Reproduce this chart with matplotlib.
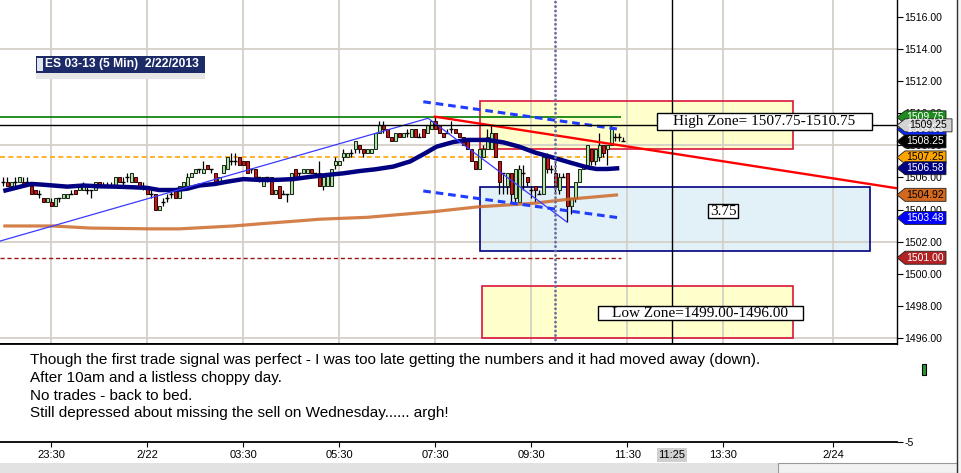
import matplotlib
matplotlib.use('Agg')
import matplotlib.pyplot as plt
from matplotlib.patches import Rectangle, Polygon
import matplotlib.transforms as mtransforms
import numpy as np

plt.rcParams['font.family'] = ['Liberation Sans', 'DejaVu Sans']

# ---------------- data ----------------
# 5-minute bars, index 0 = 23:30 bar
bar_start = -12
opens = [1505.75, 1505.75, 1505.5, 1505.75, 1505.75, 1505.75, 1505.75, 1505.5, 1505.25, 1505.0,
         1504.75, 1504.5, 1504.5, 1504.25, 1504.75, 1504.75, 1504.75, 1505.0, 1505.25, 1505.25,
         1505.25, 1505.25, 1505.25, 1505.25, 1505.75, 1505.5, 1505.5, 1505.5, 1505.5, 1506.0,
         1505.75, 1506.0, 1505.75, 1506.0, 1505.75, 1505.5, 1505.5, 1505.0, 1505.0, 1504.0,
         1504.5, 1504.75, 1505.0, 1505.25, 1504.75, 1505.5, 1505.5, 1506.0, 1506.25, 1506.5,
         1506.25, 1506.75, 1506.5, 1506.25, 1505.75, 1506.25, 1506.5, 1507.0, 1507.0, 1507.25,
         1507.0, 1507.0, 1506.5, 1506.5, 1506.0, 1505.5, 1506.0, 1506.0, 1505.0, 1505.5,
         1505.0, 1505.0, 1505.0, 1506.5, 1506.25, 1506.25, 1506.25, 1506.5, 1506.25, 1506.25,
         1505.5, 1505.5, 1505.5, 1506.75, 1506.75, 1507.25, 1507.25, 1507.5, 1507.75, 1508.0,
         1507.75, 1507.5, 1507.5, 1507.75, 1508.75, 1509.25, 1509.0, 1508.5, 1508.25, 1508.75,
         1508.5, 1508.75, 1508.5, 1509.0, 1508.5, 1509.0, 1508.75, 1509.0, 1509.5, 1509.25,
         1508.75, 1508.75, 1509.0, 1509.0, 1508.75, 1508.5, 1508.25, 1507.75, 1507.0, 1506.5,
         1507.25, 1507.75, 1507.75, 1508.75, 1507.0, 1506.25, 1505.5, 1506.25, 1504.75, 1504.5,
         1506.25, 1506.0, 1505.25, 1505.5, 1505.0, 1505.0, 1507.25, 1506.5, 1506.25, 1505.25,
         1506.0, 1506.25, 1504.25, 1504.75, 1505.75, 1506.5, 1506.75, 1507.75, 1507.0, 1507.25,
         1508.0, 1507.75, 1508.0, 1508.5, 1508.5, 1508.25]
highs = [1506.0, 1506.0, 1505.75, 1506.0, 1506.0, 1506.0, 1506.0, 1505.75, 1505.25, 1505.25,
         1504.75, 1504.75, 1504.75, 1504.75, 1504.75, 1505.0, 1505.0, 1505.25, 1505.25, 1505.5,
         1505.75, 1505.5, 1505.25, 1505.75, 1505.75, 1505.75, 1505.75, 1505.75, 1506.0, 1506.0,
         1506.0, 1506.25, 1506.25, 1506.0, 1505.75, 1505.75, 1505.5, 1505.25, 1505.0, 1504.25,
         1504.75, 1505.0, 1505.25, 1505.25, 1505.5, 1505.75, 1506.25, 1506.25, 1506.5, 1506.5,
         1507.0, 1506.75, 1506.5, 1506.25, 1506.0, 1506.75, 1507.25, 1507.5, 1507.5, 1507.25,
         1507.0, 1507.0, 1506.5, 1506.5, 1506.0, 1506.0, 1506.0, 1506.0, 1505.25, 1505.5,
         1505.25, 1505.0, 1506.25, 1506.5, 1506.25, 1506.5, 1506.5, 1506.5, 1506.25, 1507.0,
         1506.0, 1506.25, 1506.5, 1507.25, 1507.0, 1507.75, 1507.5, 1507.75, 1508.25, 1508.0,
         1507.75, 1507.75, 1507.75, 1508.75, 1509.5, 1509.5, 1509.0, 1508.5, 1508.75, 1508.75,
         1508.75, 1509.0, 1509.0, 1509.0, 1508.75, 1509.0, 1509.25, 1509.5, 1509.75, 1509.25,
         1508.75, 1509.0, 1509.5, 1509.0, 1508.75, 1508.5, 1508.25, 1507.75, 1507.0, 1507.75,
         1508.0, 1509.0, 1509.25, 1508.75, 1507.0, 1506.25, 1506.25, 1506.25, 1506.5, 1506.75,
         1506.75, 1506.0, 1505.5, 1505.5, 1505.25, 1507.5, 1507.5, 1506.75, 1507.0, 1506.25,
         1506.25, 1506.25, 1504.75, 1505.75, 1506.5, 1506.75, 1508.0, 1507.75, 1507.75, 1508.75,
         1508.0, 1508.0, 1509.25, 1508.75, 1508.75, 1508.5]
lows = [1505.5, 1505.5, 1505.5, 1505.5, 1505.75, 1505.5, 1505.5, 1505.0, 1505.0, 1504.75,
        1504.5, 1504.5, 1504.25, 1504.25, 1504.5, 1504.75, 1504.75, 1505.0, 1505.0, 1505.25,
        1505.25, 1505.0, 1504.75, 1505.25, 1505.5, 1505.5, 1505.5, 1505.5, 1505.5, 1505.75,
        1505.5, 1505.75, 1505.75, 1505.75, 1505.5, 1505.25, 1505.0, 1504.75, 1504.0, 1504.0,
        1504.25, 1504.5, 1504.75, 1504.75, 1504.75, 1505.5, 1505.5, 1506.0, 1506.25, 1506.25,
        1506.25, 1506.5, 1506.25, 1505.75, 1505.75, 1506.25, 1506.5, 1506.75, 1506.75, 1506.75,
        1506.75, 1506.25, 1506.25, 1506.0, 1505.75, 1505.5, 1505.75, 1505.0, 1505.0, 1504.75,
        1505.0, 1504.5, 1505.0, 1506.0, 1506.0, 1506.25, 1506.25, 1506.25, 1506.0, 1505.5,
        1505.25, 1505.5, 1505.5, 1506.5, 1506.75, 1507.0, 1507.25, 1507.25, 1507.5, 1507.5,
        1507.25, 1507.5, 1507.5, 1507.75, 1508.75, 1508.75, 1508.5, 1508.25, 1508.25, 1508.5,
        1508.5, 1508.5, 1508.5, 1508.5, 1508.5, 1508.75, 1508.75, 1509.0, 1509.0, 1508.75,
        1508.5, 1508.75, 1508.75, 1508.75, 1508.5, 1508.0, 1507.75, 1507.0, 1506.5, 1506.5,
        1507.25, 1507.75, 1507.75, 1507.25, 1505.0, 1505.0, 1505.0, 1504.5, 1504.5, 1504.5,
        1505.25, 1505.5, 1504.75, 1504.5, 1505.0, 1505.0, 1506.25, 1506.25, 1505.0, 1505.0,
        1506.0, 1503.25, 1503.75, 1504.5, 1505.75, 1506.5, 1506.75, 1506.75, 1506.75, 1507.0,
        1507.25, 1506.75, 1508.0, 1508.25, 1508.25, 1508.25]
closes = [1505.75, 1505.5, 1505.75, 1505.75, 1506.0, 1505.5, 1505.75, 1505.0, 1505.0, 1505.0,
          1504.5, 1504.75, 1504.25, 1504.75, 1504.75, 1505.0, 1505.0, 1505.0, 1505.0, 1505.5,
          1505.5, 1505.25, 1505.25, 1505.75, 1505.5, 1505.5, 1505.5, 1505.5, 1506.0, 1505.75,
          1505.75, 1506.0, 1506.25, 1505.75, 1505.5, 1505.5, 1505.0, 1505.0, 1504.0, 1504.25,
          1504.5, 1504.75, 1505.0, 1504.75, 1505.5, 1505.75, 1506.0, 1506.25, 1506.5, 1506.5,
          1506.5, 1506.5, 1506.5, 1505.75, 1506.0, 1506.75, 1507.25, 1507.0, 1507.0, 1506.75,
          1506.75, 1506.25, 1506.5, 1506.0, 1506.0, 1506.0, 1506.0, 1505.0, 1505.25, 1504.75,
          1505.0, 1505.0, 1506.25, 1506.0, 1506.25, 1506.5, 1506.5, 1506.25, 1506.25, 1505.5,
          1506.0, 1506.25, 1506.5, 1507.0, 1507.0, 1507.5, 1507.5, 1507.5, 1508.25, 1507.75,
          1507.5, 1507.75, 1507.75, 1508.75, 1509.25, 1509.0, 1508.5, 1508.25, 1508.75, 1508.5,
          1508.75, 1508.75, 1509.0, 1508.5, 1508.5, 1508.5, 1509.25, 1509.5, 1509.0, 1508.75,
          1508.5, 1508.75, 1509.0, 1508.75, 1508.5, 1508.0, 1507.75, 1507.0, 1506.5, 1507.75,
          1507.75, 1508.5, 1508.75, 1507.25, 1505.75, 1506.25, 1506.25, 1505.0, 1506.5, 1506.5,
          1506.25, 1505.75, 1505.25, 1505.25, 1505.0, 1507.25, 1506.5, 1506.5, 1505.5, 1506.0,
          1506.0, 1504.25, 1504.75, 1505.75, 1506.5, 1506.75, 1508.0, 1507.0, 1507.75, 1508.0,
          1507.5, 1508.0, 1509.0, 1508.5, 1508.5, 1508.25]

# moving averages (bar index, price)
ma_fast_t = [-12, -5, -2, 4, 8, 12, 16, 20.5, 24, 27, 31, 34, 37, 41, 44, 48, 52, 56, 60.5, 65,
             69, 73, 77, 81, 85.5, 89.7, 93.4, 96.3, 100.5, 104, 109, 113, 117, 121, 125.5,
             129.7, 134, 136.3, 139, 142]
ma_fast_v = [1505.16, 1505.6, 1505.55, 1505.43, 1505.5, 1505.45, 1505.43, 1505.39, 1505.35,
             1505.22, 1505.22, 1505.3, 1505.5, 1505.6, 1505.74, 1505.9, 1505.85, 1505.85, 1505.9,
             1506.05, 1506.16, 1506.26, 1506.4, 1506.51, 1506.68, 1507.0, 1507.5, 1507.92,
             1508.21, 1508.34, 1508.34, 1508.19, 1507.92, 1507.55, 1507.24, 1506.93, 1506.63,
             1506.53, 1506.53, 1506.58]
ma_slow_t = [-12, 0.4, 9.7, 25, 32, 45.5, 54, 62, 67, 79, 95.5, 107, 120.5, 129, 141.7]
ma_slow_v = [1502.98, 1502.98, 1502.85, 1502.8, 1502.8, 1502.98, 1503.15, 1503.3, 1503.4,
             1503.52, 1503.87, 1504.18, 1504.39, 1504.64, 1504.92]

# drawn objects
trend_t = [-12.8, 94.2, 128.9]
trend_v = [1502.04, 1509.69, 1503.23]
chan_t = [93, 142.2]
chan_upper = [1510.72, 1509.0]
chan_lower = [1505.16, 1503.48]
red_t = [95.9, 211.4]
red_v = [1509.79, 1505.33]
level_green = 1509.75
level_orange = 1507.25
level_darkred = 1501.00
level_end = 142.5
cross_t = 155.2
cross_v = 1509.3
dotted_t = 125.9
high_zone = (107.2, 185.5, 1507.75, 1510.75)
low_zone = (107.8, 185.5, 1496.0, 1499.25)
range_box = (107.3, 204.7, 1501.42, 1505.39)

tick_pos = [0, 24, 48, 72, 96, 120, 144, 168, 195.5]
tick_lab = ['23:30', '2/22', '03:30', '05:30', '07:30', '09:30', '11:30', '13:30', '2/24']
price_ticks = list(range(1496, 1517, 2))

notes = ["Though the first trade signal was perfect - I was too late getting the numbers and it had moved away (down).",
         "After 10am and a listless choppy day.",
         "No trades - back to bed.",
         "Still depressed about missing the sell on Wednesday...... argh!"]

tags = [(1509.75, '#1e8c1e', 'white', 49),
        (1509.00, '#0a28ff', 'white', 49),
        (1509.25, '#d4d4d4', 'black', 55),
        (1508.25, '#000000', 'white', 49),
        (1507.25, '#ffa500', 'black', 49),
        (1506.58, '#000080', 'white', 49),
        (1504.92, '#d2691e', 'black', 49),
        (1503.48, '#0000ff', 'white', 49),
        (1501.00, '#b22222', 'white', 49)]

# ---------------- figure ----------------
W, H = 961, 473
fig = plt.figure(figsize=(W / 100, H / 100), dpi=100)
fig.patch.set_facecolor('white')


def px_box(x0, y0, x1, y1):
    return [x0 / W, 1 - y1 / H, (x1 - x0) / W, (y1 - y0) / H]


def fig_rect(x0, y0, x1, y1, **kw):
    r = Rectangle((x0 / W, 1 - y1 / H), (x1 - x0) / W, (y1 - y0) / H,
                  transform=fig.transFigure, **kw)
    fig.add_artist(r)
    return r


ax = fig.add_axes(px_box(0, 0, 897, 344))
ax2 = fig.add_axes(px_box(0, 344, 897, 442))

XL = (-12.825, 211.43)
YL = (1495.626, 1517.059)
ax.set_xlim(*XL)
ax.set_ylim(*YL)
ax2.set_xlim(*XL)
ax2.set_ylim(-5, 20)

grid_c = '#d4d0c8'
for tp in tick_pos:
    ax.axvline(tp, color=grid_c, lw=1.3, zorder=1)
for gp in [1496, 1502, 1508, 1514]:
    ax.axhline(gp, color=grid_c, lw=1.3, zorder=1)

# zones
def zone(z, fc, ec):
    t0, t1, p0, p1 = z
    ax.add_patch(Rectangle((t0, p0), t1 - t0, p1 - p0, fc=fc, ec='none', zorder=0.5))
    ax.add_patch(Rectangle((t0, p0), t1 - t0, p1 - p0, fc='none', ec=ec, lw=1.2, zorder=2))

zone(high_zone, '#ffffcc', '#dc143c')
zone(low_zone, '#ffffcc', '#dc143c')
zone(range_box, '#e2f0f8', '#000080')

# horizontal levels
ax.hlines(level_green, XL[0], level_end, color='#007a00', lw=1.2, zorder=2.5)
ax.hlines(level_orange, XL[0], level_end, color='#ffa500', lw=1.2, linestyles=(0, (3, 2)), zorder=2.5)
ax.hlines(level_darkred, XL[0], level_end, color='#9a1515', lw=1.0, linestyles=(0, (3, 2)), zorder=2.5)

# candles
o = np.array(opens); h = np.array(highs); l = np.array(lows); c = np.array(closes)
t = np.arange(bar_start, bar_start + len(o))
ax.vlines(t, l, h, color='black', lw=0.9, zorder=3)
up = c > o
dn = c < o
fl = c == o
ax.bar(t[up], (c - o)[up], bottom=o[up], width=0.8, color='#b2e6a2', edgecolor='#1c2c1c', lw=0.75, zorder=3.2)
ax.bar(t[dn], (o - c)[dn], bottom=c[dn], width=0.8, color='#dd1010', edgecolor='#2a0a0a', lw=0.75, zorder=3.2)
ax.hlines(o[fl], t[fl] - 0.5, t[fl] + 0.5, color='black', lw=1.0, zorder=3.2)

# moving averages
ax.plot(ma_slow_t, ma_slow_v, color='#cd6a2a', lw=2.3, alpha=0.85, zorder=4, solid_capstyle='butt')
ax.plot(ma_fast_t, ma_fast_v, color='#000080', lw=3.2, zorder=4.2, solid_capstyle='butt')

# trend / channel lines
ax.plot(trend_t, trend_v, color='#3a3aff', lw=0.9, zorder=4.5)
ax.plot(chan_t, chan_upper, color='#1f3cff', lw=2.2, ls=(0, (2.5, 1.6)), zorder=5)
ax.plot(chan_t, chan_lower, color='#1f3cff', lw=2.2, ls=(0, (2.5, 1.6)), zorder=5)
ax.plot(red_t, red_v, color='#ff0000', lw=1.7, zorder=5)

# dotted time marker and crosshair
ax.axvline(dotted_t, color='#6c6c9c', lw=2.0, ls=(0, (0.1, 1.5)), dash_capstyle='round', zorder=5)
ax.axvline(cross_t, color='black', lw=1.0, zorder=6)
ax.axhline(cross_v, color='black', lw=1.0, zorder=6)

# annotation boxes
def note_box(t0, t1, p0, p1, txt, fs):
    ax.add_patch(Rectangle((t0, p0), t1 - t0, p1 - p0, fc='white', ec='black', lw=1.0, zorder=7))
    ax.text((t0 + t1) / 2, (p0 + p1) / 2, txt, ha='center', va='center', fontsize=fs,
            family=['Liberation Serif', 'DejaVu Serif'], zorder=8)

note_box(151.35, 205.1, 1508.96, 1510.02, 'High Zone= 1507.75-1510.75', 11)
note_box(164.25, 171.75, 1503.46, 1504.33, '3.75', 11)
note_box(136.6, 188.0, 1497.12, 1497.99, 'Low Zone=1499.00-1496.00', 11)

# axes styling (price panel)
for s in ['left', 'top']:
    ax.spines[s].set_visible(False)
ax.spines['right'].set_color('black')
ax.spines['right'].set_linewidth(1.0)
ax.spines['bottom'].set_linewidth(1.3)
ax.set_xticks([])
ax.yaxis.tick_right()
ax.set_yticks(price_ticks)
ax.set_yticklabels([f'{v:.2f}' for v in price_ticks])
ax.tick_params(axis='y', direction='out', length=4.5, width=0.8, pad=1.0, labelsize=7.6, colors='black')

# price tags
trans = mtransforms.blended_transform_factory(ax.transAxes, ax.transData)
dxp = 1 / 897.0
dyp = 1 / 16.05
for val, fc, tc, wpx in tags:
    hh = 6.5 * dyp
    pts = [(1.0, val), (1 + 8 * dxp, val + hh), (1 + wpx * dxp, val + hh),
           (1 + wpx * dxp, val - hh), (1 + 8 * dxp, val - hh)]
    ax.add_patch(Polygon(pts, closed=True, transform=trans, clip_on=False, fc=fc, ec='#202020',
                         lw=0.6, zorder=10))
    ax.text(1 + (8 + wpx) / 2 * dxp, val, f'{val:.2f}', transform=trans, ha='center', va='center',
            fontsize=7.5, color=tc, zorder=11, clip_on=False)

# text panel
for s in ['left', 'right']:
    ax2.spines[s].set_visible(False)
ax2.spines['top'].set_linewidth(1.3)
ax2.spines['bottom'].set_linewidth(1.3)
ax2.set_xticks(tick_pos)
ax2.set_xticklabels(tick_lab)
ax2.tick_params(axis='x', direction='out', length=3.5, width=0.8, pad=2.4, labelsize=8.0)
ax2.yaxis.tick_right()
ax2.set_yticks([-5])
ax2.set_yticklabels(['-5'])
ax2.tick_params(axis='y', direction='out', length=4.5, width=0.8, pad=1.0, labelsize=7.6)
line_y = [0.837, 0.656, 0.472, 0.293]
for txt, yy in zip(notes, line_y):
    ax2.text(30 / 897, yy, txt, transform=ax2.transAxes, fontsize=11, va='center', ha='left')

t2 = mtransforms.blended_transform_factory(ax2.transData, ax2.transAxes)
ax2.text(cross_t, -13 / 98, '11:25', transform=t2, ha='center', va='center', fontsize=8.0,
         bbox=dict(boxstyle='square,pad=0.15', fc='#d0d0d0', ec='none'), clip_on=False, zorder=10)

# title box
fig_rect(36, 56, 205, 73, fc='#1c2b68', ec='none', zorder=20)
fig_rect(36, 73, 205, 79, fc='#e6e6e6', ec='none', zorder=20)
fig_rect(37, 58, 43, 71, fc='#dfe6ee', ec='none', zorder=21)
fig.text(45 / W, 1 - 64.5 / H, 'ES 03-13 (5 Min)  2/22/2013', color='white', fontsize=8.7,
         fontweight='bold', va='center', ha='left', zorder=22)

# small marker in text panel
fig_rect(922, 364, 926, 375, fc='#2a9a2a', ec='black', lw=0.8, zorder=20)

# bottom scrollbar & window border
fig_rect(0, 463, 957, 473, fc='#e2e2e2', ec='none', zorder=20)
fig_rect(778, 463, 957, 473, fc='#f2f2f2', ec='#9a9a9a', lw=0.8, zorder=21)
fig_rect(957, 0, 961, 473, fc='#f4f4f4', ec='none', zorder=20)
fig.add_artist(plt.Line2D([957 / W, 957 / W], [0, 1], color='#303030', lw=1.0,
                          transform=fig.transFigure, zorder=22))

fig.savefig('out.png', dpi=100, facecolor='white')
